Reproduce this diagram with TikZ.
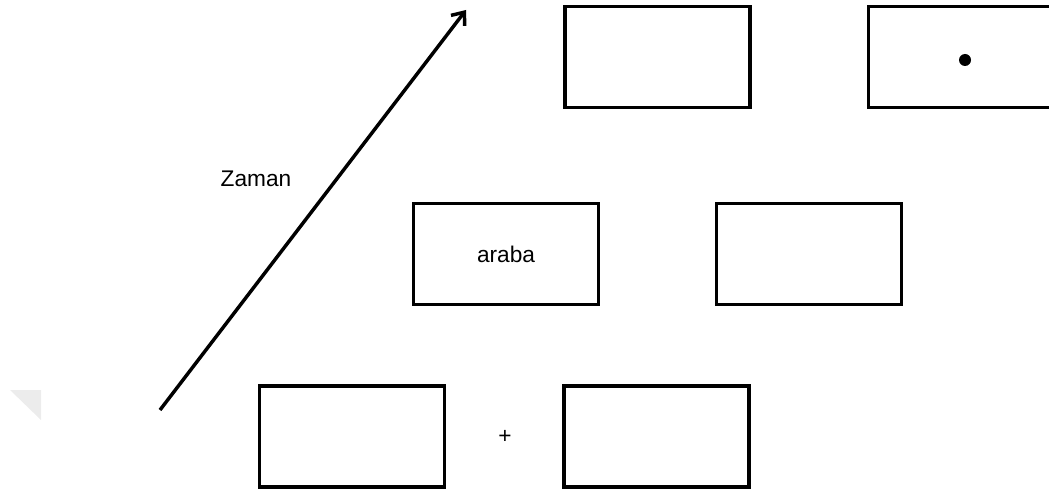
\documentclass[tikz,border=0pt]{standalone}
\usepackage{fontspec}
\setmainfont{Liberation Sans}
\usetikzlibrary{arrows.meta}
\begin{document}
\begin{tikzpicture}[x=0.75pt,y=-0.75pt,
    slot/.style={draw,line width=2.6pt,minimum width=139pt,minimum height=75.5pt,inner sep=0pt},
    label/.style={font=\fontsize{17}{20}\selectfont}]
    \useasboundingbox (0,0) rectangle (1049,491);

    % faded corner mark
    \fill[gray!15] (10,390) -- (41,390) -- (41,420) -- cycle;

    % time axis
    \coordinate (tstart) at (160,410);
    \coordinate (tend) at (466,10);
    \draw[line width=2.6pt,-{Straight Barb[length=8pt,width=13pt]}] (tstart) -- (tend);
    \node[label] (zaman) at (256,179) {Zaman};

    % top row
    \node[slot] (topl) at (657.5,57) {};
    \node[slot] (topr) at (961,57) {};
    \fill (965,60) circle (6);

    % middle row
    \node[slot] (midl) at (506,254) {};
    \node[slot] (midr) at (809,254) {};
    \node[label] (araba) at (midl.center) {araba};

    % bottom row
    \node[slot] (botl) at (352,436.5) {};
    \node[slot] (botr) at (656.5,436.5) {};
    \node[label] (plus) at (505,437) {+};
\end{tikzpicture}
\end{document}
